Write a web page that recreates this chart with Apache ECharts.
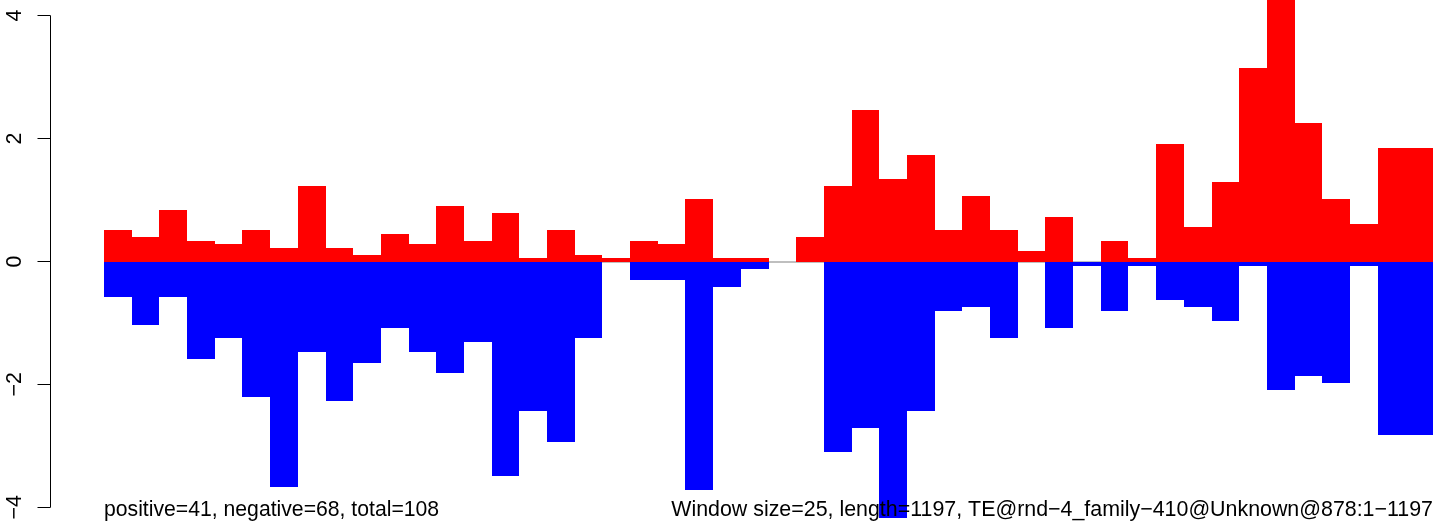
<!DOCTYPE html>
<html>
<head>
<meta charset="utf-8">
<script src="https://cdn.jsdelivr.net/npm/echarts@6/dist/echarts.min.js"></script>
<style>
  html, body { margin: 0; padding: 0; background: #ffffff; }
  #chart { width: 1441px; height: 524px; }
</style>
</head>
<body>
<div id="chart"></div>
<script>
// Window index (one bar pair per window)
const categories = ["1","2","3","4","5","6","7","8","9","10","11","12","13","14","15","16",
  "17","18","19","20","21","22","23","24","25","26","27","28","29","30","31","32",
  "33","34","35","36","37","38","39","40","41","42","43","44","45","46","47","48"];

// Positive scores (red)
const positiveValues = [0.51, 0.40, 0.84, 0.33, 0.29, 0.51, 0.22, 1.23, 0.22, 0.11, 0.45, 0.29,
  0.90, 0.33, 0.79, 0.06, 0.51, 0.11, 0.06, 0.33, 0.29, 1.02, 0.06, 0.06,
  0, 0.40, 1.23, 2.47, 1.34, 1.73, 0.51, 1.07, 0.51, 0.17, 0.72, 0,
  0.33, 0.06, 1.91, 0.56, 1.29, 3.15, 4.5, 2.25, 1.02, 0.61, 1.85, 1.85];

// Negative scores (blue)
const negativeValues = [-0.58, -1.03, -0.58, -1.59, -1.25, -2.21, -3.67, -1.47, -2.27, -1.65, -1.08, -1.47,
  -1.82, -1.31, -3.49, -2.43, -2.94, -1.25, 0, -0.30, -0.30, -3.72, -0.42, -0.12,
  0, 0, -3.10, -2.71, -4.17, -2.43, -0.81, -0.74, -1.25, 0, -1.08, -0.07,
  -0.81, -0.07, -0.63, -0.74, -0.97, -0.07, -2.09, -1.86, -1.98, -0.07, -2.82, -2.82];

// Y axis ticks
const yTicks = [-4, -2, 0, 2, 4];

const leftNote = "positive=41, negative=68, total=108";
const rightNote = "Window size=25, length=1197, TE@rnd\u22124_family\u2212410@Unknown@878:1\u22121197";

const FONT = "Liberation Sans, Arial, Helvetica, sans-serif";

function barRenderer(color) {
  return function (params, api) {
    const i = api.value(0);
    const v = api.value(1);
    if (!v) return null;
    const base = api.coord([i, 0]);
    const tip = api.coord([i, v]);
    const w = api.size([1, 0])[0];
    const x0 = Math.round(base[0] - w / 2);
    const x1 = Math.round(base[0] + w / 2);
    const y0 = Math.round(base[1]);
    const y1 = Math.round(tip[1]);
    return {
      type: 'rect',
      shape: { x: x0, y: Math.min(y0, y1), width: x1 - x0, height: Math.abs(y1 - y0) },
      style: { fill: color, stroke: null }
    };
  };
}

const chart = echarts.init(document.getElementById('chart'), null, { renderer: 'canvas' });
chart.setOption({
  animation: false,
  backgroundColor: '#ffffff',
  grid: { left: 104, right: 8, top: 15.7, bottom: 16.7, containLabel: false },
  xAxis: {
    type: 'category',
    data: categories,
    show: false,
    boundaryGap: true
  },
  yAxis: {
    type: 'value',
    min: yTicks[0],
    max: yTicks[yTicks.length - 1],
    interval: 2,
    offset: 54,
    splitLine: { show: false },
    axisLine: { show: true, lineStyle: { color: '#000000', width: 1 } },
    axisTick: { show: true, length: 12.5, inside: false, lineStyle: { color: '#000000', width: 1 } },
    axisLabel: {
      rotate: 90,
      margin: 24,
      color: '#000000',
      fontFamily: FONT,
      fontSize: 21.3,
      formatter: function (v) { return String(v).replace('-', '\u2212'); }
    }
  },
  series: [
    {
      type: 'line',
      data: [],
      z: 1,
      silent: true,
      markLine: {
        silent: true,
        z: 1,
        symbol: ['none', 'none'],
        label: { show: false },
        lineStyle: { color: '#aaaaaa', width: 1.5, type: 'solid' },
        data: [{ yAxis: 0 }]
      }
    },
    {
      name: 'positive',
      type: 'custom',
      clip: false,
      z: 6,
      renderItem: barRenderer('#ff0000'),
      encode: { x: 0, y: 1 },
      data: positiveValues.map(function (v, i) { return [i, v]; })
    },
    {
      name: 'negative',
      type: 'custom',
      clip: false,
      z: 6,
      renderItem: barRenderer('#0000ff'),
      encode: { x: 0, y: 1 },
      data: negativeValues.map(function (v, i) { return [i, v]; })
    }
  ],
  graphic: [
    {
      type: 'text',
      z: 20,
      x: 104,
      y: 510.5,
      style: {
        text: leftNote,
        fill: '#000000',
        font: '21.2px ' + FONT,
        textAlign: 'left',
        textVerticalAlign: 'middle'
      }
    },
    {
      type: 'text',
      z: 20,
      x: 1433,
      y: 510.5,
      style: {
        text: rightNote,
        fill: '#000000',
        font: '21.4px ' + FONT,
        textAlign: 'right',
        textVerticalAlign: 'middle'
      }
    }
  ]
});
</script>
</body>
</html>
